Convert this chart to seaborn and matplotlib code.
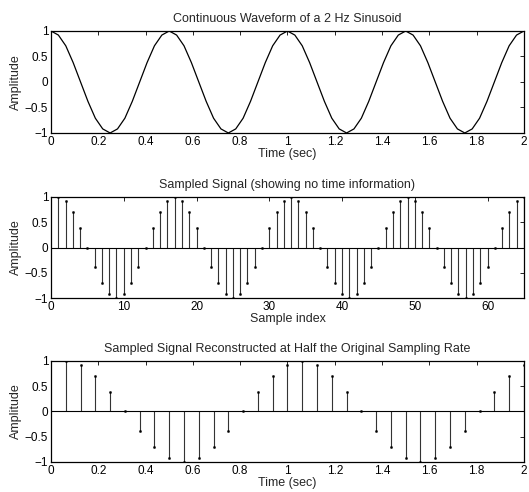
import numpy as np
import pandas as pd
import matplotlib
matplotlib.use("Agg")
import matplotlib.pyplot as plt
from matplotlib.ticker import FuncFormatter
import seaborn as sns

# ==============================
# DATA
# ==============================
amplitude = [
    1, 0.92, 0.71, 0.38, 0, -0.38, -0.71, -0.92, -1, -0.92, -0.71, -0.38, 0, 0.38, 0.71, 0.92,
    1, 0.92, 0.71, 0.38, 0, -0.38, -0.71, -0.92, -1, -0.92, -0.71, -0.38, 0, 0.38, 0.71, 0.92,
    1, 0.92, 0.71, 0.38, 0, -0.38, -0.71, -0.92, -1, -0.92, -0.71, -0.38, 0, 0.38, 0.71, 0.92,
    1, 0.92, 0.71, 0.38, 0, -0.38, -0.71, -0.92, -1, -0.92, -0.71, -0.38, 0, 0.38, 0.71, 0.92,
    1,
]
fs = 32            # original sampling rate (Hz)
n_half = 32        # samples visible in the half-rate panel

titles = [
    "Continuous Waveform of a 2 Hz Sinusoid",
    "Sampled Signal (showing no time information)",
    "Sampled Signal Reconstructed at Half the Original Sampling Rate",
]
xlabels = ["Time (sec)", "Sample index", "Time (sec)"]
time_ticks = [0, 0.2, 0.4, 0.6, 0.8, 1, 1.2, 1.4, 1.6, 1.8, 2]
index_ticks = [0, 10, 20, 30, 40, 50, 60]
amp_ticks = [-1, -0.5, 0, 0.5, 1]

n = np.arange(1, len(amplitude) + 1)
df_cont = pd.DataFrame({"t": (n - 1) / fs, "amp": amplitude})
df_idx = pd.DataFrame({"n": n, "amp": amplitude})
df_half = pd.DataFrame({"t": n[:n_half] / (fs / 2), "amp": amplitude[:n_half]})

# ==============================
# STYLE
# ==============================
sns.set_style("white")
plt.rcParams["font.family"] = ["Liberation Sans", "DejaVu Sans"]
plt.rcParams.update({
    "font.size": 9,
    "xtick.direction": "in",
    "ytick.direction": "in",
    "xtick.top": True,
    "ytick.right": True,
    "xtick.major.size": 3,
    "ytick.major.size": 3,
    "xtick.major.width": 0.6,
    "ytick.major.width": 0.6,
    "xtick.color": "black",
    "ytick.color": "black",
    "axes.edgecolor": "black",
    "axes.linewidth": 0.9,
})

fig = plt.figure(figsize=(5.29, 4.92), dpi=100)
rects = [
    [0.0964, 0.7297, 0.894, 0.2073],
    [0.0964, 0.3943, 0.894, 0.2053],
    [0.0964, 0.0610, 0.894, 0.2053],
]
axes = [fig.add_axes(r) for r in rects]
fmt = FuncFormatter(lambda v, p: ("%g" % v).replace("-", "\u2212"))


def stems(ax, df, x):
    ax.vlines(df[x], 0, df["amp"], color="#333333", lw=0.8)
    sns.scatterplot(data=df, x=x, y="amp", ax=ax, color="black", s=2.5,
                    marker="o", edgecolor="black", linewidth=0.3, zorder=3)
    ax.axhline(0, color="black", lw=0.8)


# top: continuous waveform
sns.lineplot(data=df_cont, x="t", y="amp", ax=axes[0], color="black", lw=0.9)
axes[0].set_xlim(0, 2)
axes[0].set_xticks(time_ticks)

# middle: stems against sample index
stems(axes[1], df_idx, "n")
axes[1].set_xlim(0, 65)
axes[1].set_xticks(index_ticks)

# bottom: stems at half rate
stems(axes[2], df_half, "t")
axes[2].set_xlim(0, 2)
axes[2].set_xticks(time_ticks)

for ax, title, xl in zip(axes, titles, xlabels):
    ax.set_ylim(-1, 1)
    ax.set_yticks(amp_ticks)
    ax.xaxis.set_major_formatter(fmt)
    ax.yaxis.set_major_formatter(fmt)
    ax.set_title(title, fontsize=9, pad=6.5)
    ax.set_xlabel(xl, fontsize=9, labelpad=0)
    ax.set_ylabel("Amplitude", fontsize=9, labelpad=2)
    ax.tick_params(labelsize=8.5, pad=2)

fig.savefig("out.png", dpi=100)
